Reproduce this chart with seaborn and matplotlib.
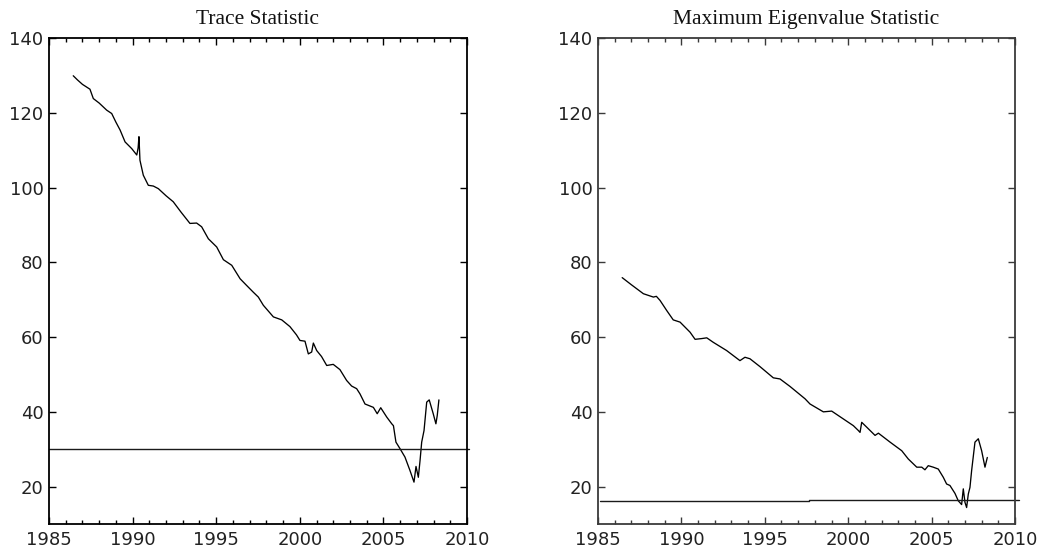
import matplotlib
matplotlib.use("Agg")
import matplotlib.pyplot as plt
from matplotlib.ticker import MultipleLocator
import pandas as pd
import seaborn as sns

# Trace statistic, recursive estimates
trace_years = [1986.45, 1986.7, 1987.0, 1987.45, 1987.65, 1988.0, 1988.45, 1988.75, 1989.0,
               1989.25, 1989.55, 1989.95, 1990.25, 1990.33, 1990.38, 1990.44, 1990.64, 1990.94,
               1991.24, 1991.54, 1992.0, 1992.43, 1992.9, 1993.43, 1993.83, 1994.13, 1994.53,
               1995.03, 1995.43, 1995.93, 1996.43, 1996.8, 1997.22, 1997.52, 1997.82, 1998.42,
               1998.92, 1999.41, 1999.8, 2000.01, 2000.31, 2000.51, 2000.71, 2000.81, 2001.01,
               2001.3, 2001.61, 2002.0, 2002.4, 2002.8, 2003.1, 2003.4, 2003.6, 2003.9, 2004.4,
               2004.63, 2004.84, 2005.2, 2005.5, 2005.6, 2005.75, 2006.0, 2006.29, 2006.59,
               2006.83, 2006.95, 2007.09, 2007.19, 2007.29, 2007.43, 2007.59, 2007.74, 2007.98,
               2008.14, 2008.22, 2008.32]
trace_values = [129.9, 128.8, 127.6, 126.3, 123.8, 122.6, 120.7, 119.8, 117.5,
                115.4, 112.2, 110.4, 108.7, 110.6, 113.6, 107.3, 103.3, 100.6,
                100.4, 99.7, 97.8, 96.2, 93.4, 90.4, 90.5, 89.5, 86.3,
                84.1, 80.7, 79.2, 75.6, 73.9, 72.0, 70.7, 68.5, 65.4,
                64.6, 62.8, 60.6, 59.1, 58.9, 55.5, 56.0, 58.4, 56.4,
                54.8, 52.4, 52.7, 51.3, 48.4, 46.9, 46.2, 44.8, 42.1, 41.2,
                39.5, 41.1, 38.6, 36.8, 36.3, 31.9, 30.1, 27.9, 24.3,
                21.2, 25.4, 22.5, 26.9, 31.9, 35.0, 42.6, 43.2, 39.5,
                36.8, 39.0, 43.2]

# Maximum eigenvalue statistic, recursive estimates
maxeig_years = [1986.45, 1987.0, 1987.72, 1988.32, 1988.5, 1988.72, 1989.12, 1989.51, 1989.92,
                1990.52, 1990.82, 1991.22, 1991.52, 1991.91, 1992.71, 1993.51, 1993.81, 1994.11,
                1994.71, 1995.51, 1995.91, 1996.51, 1997.41, 1997.71, 1998.51, 1999.01, 1999.41,
                2000.31, 2000.61, 2000.71, 2000.81, 2001.11, 2001.61, 2001.81, 2002.51, 2003.21,
                2003.6, 2004.11, 2004.41, 2004.6, 2004.8, 2005.1, 2005.4, 2005.7, 2005.9, 2006.1,
                2006.4, 2006.6, 2006.8, 2006.9, 2007.0, 2007.1, 2007.2, 2007.3, 2007.4, 2007.6,
                2007.8, 2008.0, 2008.2, 2008.34]
maxeig_values = [75.9, 74.0, 71.6, 70.7, 70.9, 69.8, 67.1, 64.6, 64.0,
                 61.3, 59.4, 59.6, 59.8, 58.6, 56.4, 53.7, 54.6, 54.2,
                 52.1, 49.1, 48.8, 46.8, 43.5, 42.1, 40.0, 40.2, 39.0,
                 36.3, 35.0, 34.5, 37.2, 35.9, 33.7, 34.3, 31.9, 29.6,
                 27.4, 25.2, 25.2, 24.5, 25.6, 25.2, 24.7, 22.5, 20.7, 20.3,
                 18.2, 16.2, 15.2, 19.4, 15.8, 14.4, 18.0, 19.8, 24.3, 31.9,
                 32.8, 29.6, 25.2, 27.8]

# Critical values
trace_crit_years = [1985.0, 2010.1]
trace_crit_values = [30.0, 30.0]
maxeig_crit_years = [1985.1, 1997.65, 1997.65, 2010.25]
maxeig_crit_values = [16.2, 16.2, 16.5, 16.5]

titles = ["Trace Statistic", "Maximum Eigenvalue Statistic"]
x_ticks = [1985, 1990, 1995, 2000, 2005, 2010]
y_ticks = [20, 40, 60, 80, 100, 120, 140]

sns.set_style("white")
plt.rcParams["font.family"] = ["DejaVu Sans"]

fig = plt.figure(figsize=(10.42, 5.57), dpi=100)
ax_left = fig.add_axes([49 / 1042, 33 / 557, 418 / 1042, 486 / 557])
ax_right = fig.add_axes([598 / 1042, 33 / 557, 417 / 1042, 486 / 557])

panels = [
    (trace_years, trace_values, trace_crit_years, trace_crit_values, "black"),
    (maxeig_years, maxeig_values, maxeig_crit_years, maxeig_crit_values, "#3a3a3a"),
]

for ax, title, (xs, ys, cx, cy, spine_col) in zip([ax_left, ax_right], titles, panels):
    series = pd.DataFrame({"year": xs, "value": ys})
    crit = pd.DataFrame({"year": cx, "value": cy})
    sns.lineplot(data=series, x="year", y="value", ax=ax, color="black",
                 linewidth=0.95, sort=False, estimator=None)
    sns.lineplot(data=crit, x="year", y="value", ax=ax, color="#1a1a1a",
                 linewidth=1.0, sort=False, estimator=None)
    ax.lines[-1].set_clip_on(False)

    ax.set_xlim(1985, 2010)
    ax.set_ylim(10, 140)
    ax.set_xticks(x_ticks)
    ax.set_yticks(y_ticks)
    ax.xaxis.set_minor_locator(MultipleLocator(1))
    ax.set_xlabel("")
    ax.set_ylabel("")
    ax.tick_params(axis="x", which="major", direction="in", length=5, width=1,
                   top=True, bottom=True, pad=5, labelsize=13, labelcolor="#222222",
                   color=spine_col)
    ax.tick_params(axis="x", which="minor", direction="in", length=3, width=1,
                   top=True, bottom=True, color=spine_col)
    ax.tick_params(axis="y", which="major", direction="in", length=5, width=1,
                   left=True, right=True, pad=4, labelsize=13, labelcolor="#222222",
                   color=spine_col)
    for s in ax.spines.values():
        s.set_visible(True)
        s.set_color(spine_col)
        s.set_linewidth(1.3)
    ax.set_title(title, family="Liberation Serif", fontsize=15.5, color="#111111", pad=10)

fig.savefig("out.png", dpi=100, facecolor="white")
